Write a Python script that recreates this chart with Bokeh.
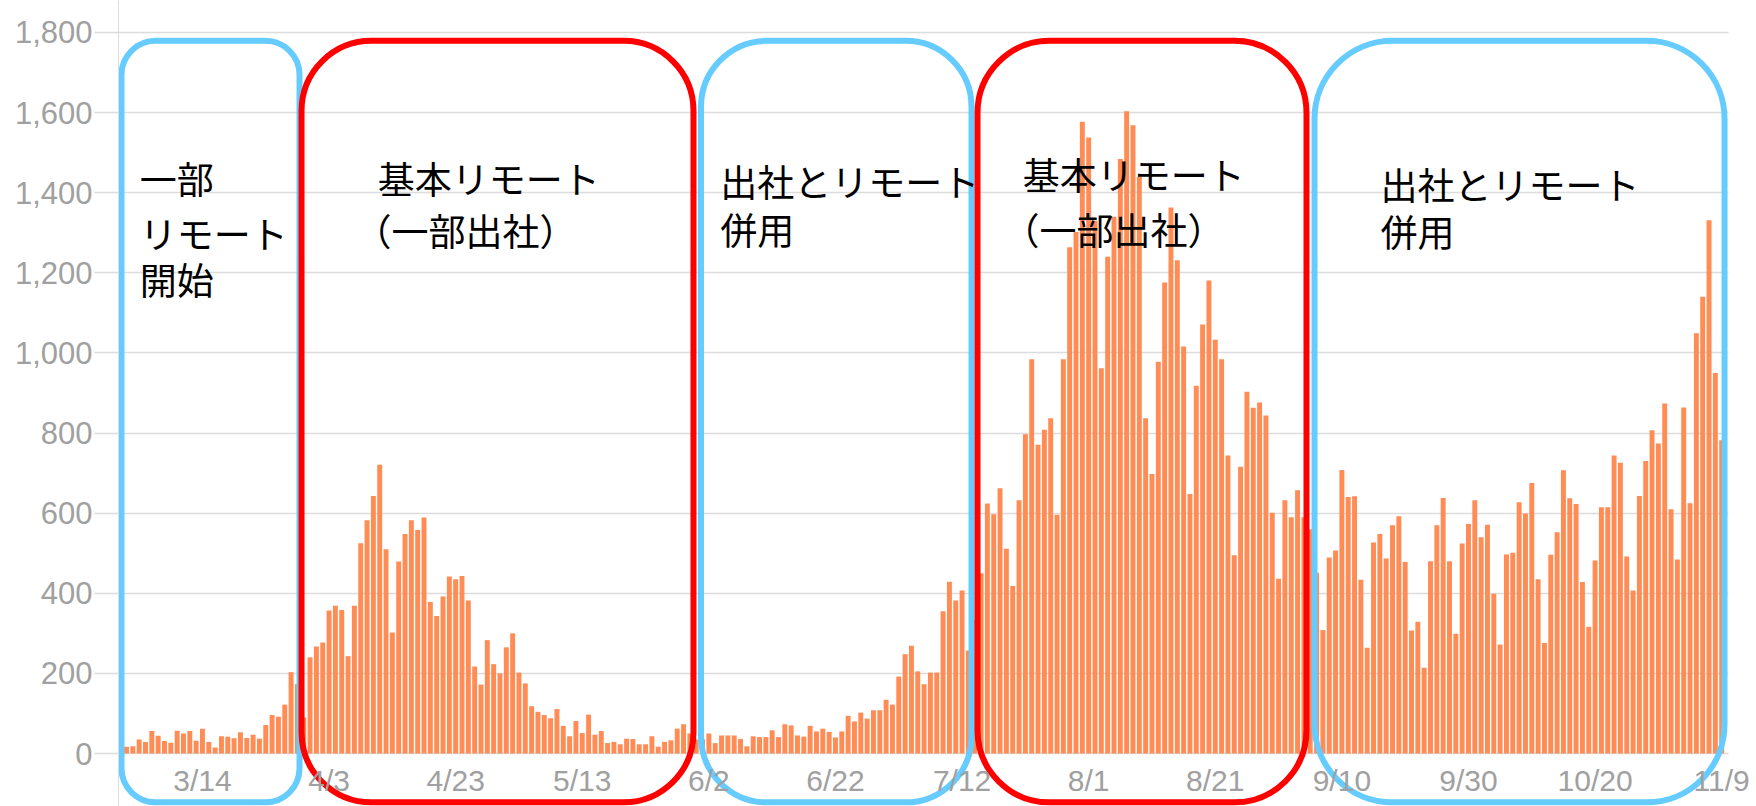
import pandas as pd
from bokeh.plotting import figure
from bokeh.models import Range1d, FixedTicker, NumeralTickFormatter, Label
from bokeh.embed import file_html
from bokeh.resources import INLINE

# daily new cases, 2020-03-02 .. 2020-11-09
mar = [17, 18, 35, 29, 56, 44, 31, 27, 57, 50, 56, 32, 62, 29, 15, 43, 42, 38, 53, 39,
       47, 37, 71, 96, 92, 122, 203, 173, 90, 240]
apr = [267, 277, 357, 369, 358, 243, 369, 525, 582, 643, 721, 510, 302, 479, 548, 582,
       558, 589, 378, 343, 392, 442, 435, 443, 382, 217, 172, 283, 223, 200]
may = [265, 300, 202, 175, 118, 104, 96, 88, 111, 69, 43, 81, 51, 97, 47, 56, 26, 29,
       23, 37, 36, 23, 23, 43, 17, 29, 33, 62, 73, 50, 35]
jun = [35, 50, 26, 45, 45, 45, 36, 18, 43, 41, 41, 58, 41, 73, 70, 45, 42, 69, 55, 62,
       54, 40, 55, 94, 80, 102, 87, 108, 108, 134]
jul = [122, 192, 248, 269, 205, 173, 202, 202, 355, 429, 382, 407, 257, 333, 450, 624,
       597, 662, 511, 418, 632, 797, 984, 771, 808, 837, 596, 984, 1264, 1302, 1577]
aug = [1538, 1330, 962, 1240, 1340, 1484, 1603, 1568, 1440, 837, 698, 978, 1176, 1363,
       1231, 1016, 648, 918, 1071, 1181, 1033, 984, 744, 495, 716, 903, 863, 876, 844,
       601, 436]
sep = [632, 590, 657, 590, 560, 451, 308, 489, 507, 708, 640, 642, 434, 264, 527, 548,
       487, 570, 592, 478, 307, 329, 214, 480, 570, 638, 480, 299, 524, 573]
oct_ = [632, 540, 571, 399, 272, 497, 501, 627, 599, 675, 435, 276, 496, 552, 707, 637,
        623, 428, 316, 482, 615, 615, 744, 726, 492, 407, 643, 730, 807, 774, 874]
nov = [610, 484, 864, 625, 1049, 1140, 1331, 950, 782]

values = mar + apr + may + jun + jul + aug + sep + oct_ + nov
dates = pd.date_range("2020-03-02", "2020-11-09", freq="D")
day_labels = [f"{d.month}/{d.day}" for d in dates]
xs = list(range(len(values)))

tick_labels = ["3/14", "4/3", "4/23", "5/13", "6/2", "6/22", "7/12", "8/1", "8/21",
               "9/10", "9/30", "10/20", "11/9"]
y_ticks = [0, 200, 400, 600, 800, 1000, 1200, 1400, 1600, 1800]

# period frames (day index span) and notes
frame_left = [-0.79, 27.65, 90.76, 134.44, 187.68]
frame_right = [27.33, 89.57, 133.49, 186.41, 252.45]
frame_color = ["#66CCFF", "#FF0000", "#66CCFF", "#FF0000", "#66CCFF"]
frame_radius = [34, 70, 66, 72, 78]

notes = [
    ("一部", 2.1, 1436), ("リモート", 2.1, 1300), ("開始", 2.1, 1184),
    ("基本リモート", 39.7, 1436), ("（一部出社）", 36.0, 1306),
    ("出社とリモート", 93.8, 1429), ("併用", 93.8, 1310),
    ("基本リモート", 141.6, 1447), ("（一部出社）", 138.4, 1309),
    ("出社とリモート", 198.1, 1421), ("併用", 198.1, 1304),
]

tick_idx = [day_labels.index(t) for t in tick_labels]

X_END = 257.5  # frame reaches the right edge so the last date label is not cut
p = figure(width=1756, height=806, output_backend="svg", toolbar_location=None,
           x_range=Range1d(-1.264, X_END), y_range=Range1d(-132.3, 1879.7),
           min_border_left=118, min_border_right=0, min_border_top=0, min_border_bottom=0)
p.outline_line_color = None
p.background_fill_color = "white"
p.border_fill_color = "white"

# white strip that ends the grid lines at the chart's right edge
p.quad(left=253.08, right=X_END, top=1879.7, bottom=-132.3,
       fill_color="white", line_color=None)

p.vbar(x=xs, top=values, bottom=0, width=0.78, fill_color="#FF8B55", line_color=None)

# axes
p.xaxis.fixed_location = 0
p.xaxis.ticker = FixedTicker(ticks=tick_idx)
p.xaxis.major_label_overrides = {i: t for i, t in zip(tick_idx, tick_labels)}
p.xaxis.major_tick_out = 0
p.xaxis.major_tick_in = 0
p.xaxis.minor_tick_out = 0
p.xaxis.minor_tick_in = 0
p.xaxis.axis_line_color = None
p.xaxis.major_label_standoff = 10
p.xaxis.major_label_text_font = "Liberation Sans"
p.xaxis.major_label_text_font_size = "30px"
p.xaxis.major_label_text_color = "#a0a0a0"

p.yaxis.ticker = FixedTicker(ticks=y_ticks)
p.yaxis.formatter = NumeralTickFormatter(format="0,0")
p.yaxis.major_tick_out = 24
p.yaxis.major_tick_in = 0
p.yaxis.minor_tick_out = 0
p.yaxis.minor_tick_in = 0
p.yaxis.major_tick_line_color = "#dcdcdc"
p.yaxis.major_tick_line_width = 1.5
p.yaxis.axis_line_color = "#dcdcdc"
p.yaxis.major_label_standoff = 2
p.yaxis.major_label_text_font = "Liberation Sans"
p.yaxis.major_label_text_font_size = "31px"
p.yaxis.major_label_text_color = "#a0a0a0"

p.xgrid.visible = False
p.ygrid.grid_line_color = "#dcdcdc"
p.ygrid.grid_line_width = 1.5

order = [0, 2, 4, 1, 3]
for k in order:
    p.quad(left=frame_left[k], right=frame_right[k], top=1779, bottom=-122,
           fill_color=None, line_color=frame_color[k], line_width=6,
           border_radius=frame_radius[k])

for txt, x, y in notes:
    p.add_layout(Label(x=x, y=y, text=txt, text_font="Noto Sans CJK JP",
                       text_font_size="37px", text_color="black",
                       text_align="left", text_baseline="middle"))

open("out.html", "w").write(file_html(p, INLINE))
